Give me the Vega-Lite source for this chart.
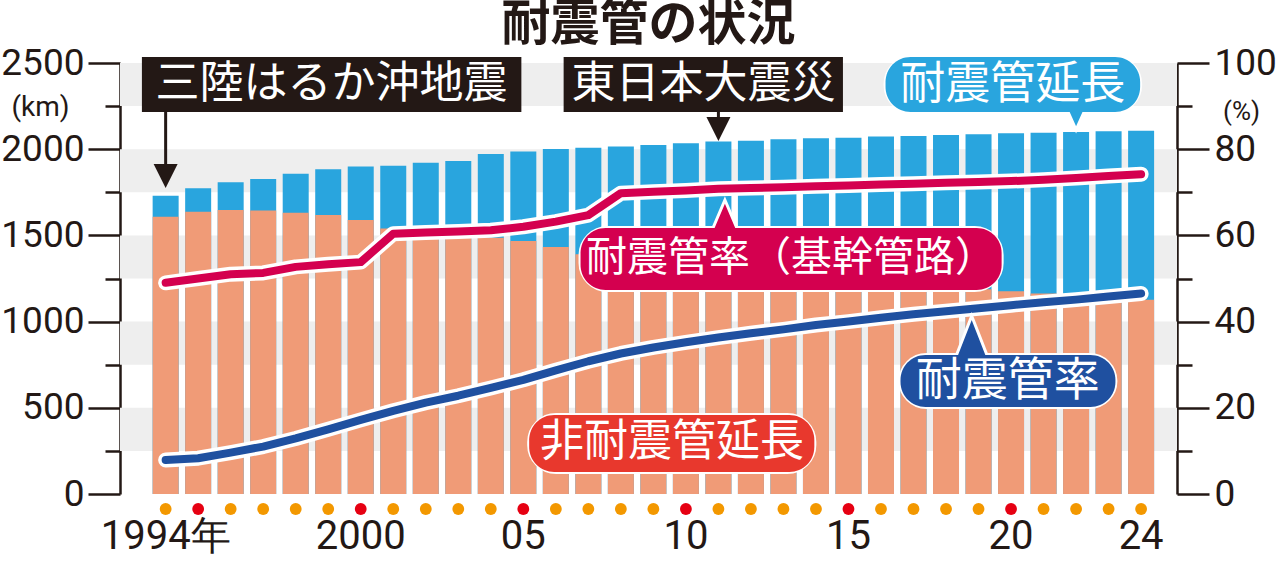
{
  "$schema": "https://vega.github.io/schema/vega-lite/v6.json",
  "width": 1057,
  "height": 431,
  "autosize": "none",
  "padding": {"left": 120, "top": 63, "right": 103, "bottom": 67},
  "background": "white",
  "config": {"view": {"stroke": null}},
  "title": {
    "text": "耐震管の状況",
    "font": "Noto Sans CJK JP",
    "fontSize": 49,
    "fontWeight": "bold",
    "color": "#231815",
    "anchor": "middle",
    "frame": "group",
    "offset": -6
  },
  "datasets": {
    "main": [
      {"year": 1994, "total": 1730, "non": 1608, "rate": 7.9, "trunk": 49.0},
      {"year": 1995, "total": 1773, "non": 1637, "rate": 8.3, "trunk": 50.0},
      {"year": 1996, "total": 1808, "non": 1647, "rate": 9.6, "trunk": 51.0},
      {"year": 1997, "total": 1827, "non": 1645, "rate": 11.0, "trunk": 51.3},
      {"year": 1998, "total": 1858, "non": 1632, "rate": 12.9, "trunk": 52.7},
      {"year": 1999, "total": 1883, "non": 1618, "rate": 15.0, "trunk": 53.3},
      {"year": 2000, "total": 1900, "non": 1589, "rate": 17.2, "trunk": 53.8},
      {"year": 2001, "total": 1904, "non": 1540, "rate": 19.3, "trunk": 60.4},
      {"year": 2002, "total": 1922, "non": 1515, "rate": 21.2, "trunk": 60.7},
      {"year": 2003, "total": 1932, "non": 1491, "rate": 22.8, "trunk": 60.9},
      {"year": 2004, "total": 1972, "non": 1487, "rate": 24.6, "trunk": 61.2},
      {"year": 2005, "total": 1986, "non": 1468, "rate": 26.5, "trunk": 62.0},
      {"year": 2006, "total": 2001, "non": 1432, "rate": 28.7, "trunk": 63.2},
      {"year": 2007, "total": 2009, "non": 1390, "rate": 30.8, "trunk": 64.7},
      {"year": 2008, "total": 2015, "non": 1358, "rate": 32.6, "trunk": 69.8},
      {"year": 2009, "total": 2024, "non": 1336, "rate": 34.0, "trunk": 70.1},
      {"year": 2010, "total": 2034, "non": 1318, "rate": 35.2, "trunk": 70.4},
      {"year": 2011, "total": 2044, "non": 1302, "rate": 36.3, "trunk": 70.8},
      {"year": 2012, "total": 2049, "non": 1285, "rate": 37.3, "trunk": 71.0},
      {"year": 2013, "total": 2057, "non": 1271, "rate": 38.2, "trunk": 71.2},
      {"year": 2014, "total": 2063, "non": 1254, "rate": 39.2, "trunk": 71.4},
      {"year": 2015, "total": 2067, "non": 1240, "rate": 40.0, "trunk": 71.6},
      {"year": 2016, "total": 2073, "non": 1225, "rate": 40.9, "trunk": 71.8},
      {"year": 2017, "total": 2077, "non": 1211, "rate": 41.7, "trunk": 72.0},
      {"year": 2018, "total": 2082, "non": 1199, "rate": 42.4, "trunk": 72.2},
      {"year": 2019, "total": 2086, "non": 1187, "rate": 43.1, "trunk": 72.4},
      {"year": 2020, "total": 2092, "non": 1176, "rate": 43.8, "trunk": 72.6},
      {"year": 2021, "total": 2096, "non": 1163, "rate": 44.5, "trunk": 72.9},
      {"year": 2022, "total": 2100, "non": 1153, "rate": 45.1, "trunk": 73.3},
      {"year": 2023, "total": 2104, "non": 1140, "rate": 45.8, "trunk": 73.8},
      {"year": 2024, "total": 2107, "non": 1127, "rate": 46.5, "trunk": 74.2}
    ],
    "xlabels": [
      {"year": 1994, "label": "1994年"},
      {"year": 2000, "label": "2000"},
      {"year": 2005, "label": "05"},
      {"year": 2010, "label": "10"},
      {"year": 2015, "label": "15"},
      {"year": 2020, "label": "20"},
      {"year": 2024, "label": "24"}
    ],
    "bands": [
      {"lo": 250, "hi": 500},
      {"lo": 750, "hi": 1000},
      {"lo": 1250, "hi": 1500},
      {"lo": 1750, "hi": 2000},
      {"lo": 2250, "hi": 2500}
    ],
    "notes": [
      {"text": "三陸はるか沖地震", "kind": "black", "x1": 1993.27, "x2": 2004.94, "y1": 2216, "y2": 2535, "cx": 1999.1, "cy": 2375},
      {"text": "東日本大震災", "kind": "black", "x1": 2006.24, "x2": 2014.83, "y1": 2216, "y2": 2535, "cx": 2010.54, "cy": 2375},
      {"text": "耐震管延長", "kind": "round", "x1": 2016.14, "x2": 2023.97, "y1": 2216, "y2": 2535, "cx": 2020.05, "cy": 2375},
      {"text": "耐震管率（基幹管路）", "kind": "round", "x1": 2006.76, "x2": 2019.71, "y1": 1183, "y2": 1543, "cx": 2013.23, "cy": 1363},
      {"text": "耐震管率", "kind": "round", "x1": 2016.6, "x2": 2023.21, "y1": 505, "y2": 806, "cx": 2019.9, "cy": 655},
      {"text": "非耐震管延長", "kind": "round", "x1": 2005.18, "x2": 2013.95, "y1": 128, "y2": 458, "cx": 2009.57, "cy": 293}
    ],
    "pointers": [
      {"name": "耐震管延長", "x": 2022, "y": 2187},
      {"name": "耐震管率（基幹管路）", "x": 2011.2, "y": 1601},
      {"name": "耐震管率", "x": 2018.79, "y": 899}
    ],
    "arrows": [
      {"name": "三陸はるか沖地震", "x": 1994, "top": 2216, "bot": 1879, "head": 1845},
      {"name": "東日本大震災", "x": 2011, "top": 2216, "bot": 2150, "head": 2117}
    ]
  },
  "resolve": {"scale": {"y": "independent", "size": "independent", "shape": "independent"}, "axis": {"y": "independent"}},
  "layer": [
    {
      "data": {"name": "bands"},
      "mark": {"type": "rect", "color": "#eeeeee"},
      "encoding": {
        "y": {"field": "lo", "type": "quantitative", "scale": {"domain": [0, 2500], "nice": false, "zero": true}, "axis": null},
        "y2": {"field": "hi"}
      }
    },
    {
      "data": {"name": "main"},
      "mark": {"type": "bar", "width": 26, "orient": "vertical", "color": "#29a5de"},
      "encoding": {
        "x": {
          "field": "year", "type": "quantitative",
          "scale": {"domain": [1992.75, 2024.95], "nice": false, "zero": false},
          "axis": null
        },
        "y": {
          "field": "total", "type": "quantitative",
          "scale": {"domain": [0, 2500], "nice": false, "zero": true},
          "axis": {
            "orient": "left",
            "values": [0, 500, 1000, 1500, 2000, 2500],
            "format": "d",
            "grid": false,
            "domainColor": "#231815", "domainWidth": 2.5,
            "tickColor": "#231815", "tickWidth": 2.5, "tickSize": 32,
            "labelFont": "Roboto", "labelFontSize": 37, "labelColor": "#231815",
            "labelPadding": 4,
            "title": "(km)", "titleAngle": 0, "titleX": -80, "titleY": 44,
            "titleAlign": "center", "titleBaseline": "middle",
            "titleFont": "Roboto", "titleFontSize": 28, "titleFontWeight": "normal", "titleColor": "#231815"
          }
        }
      }
    },
    {
      "data": {"name": "main"},
      "mark": {"type": "bar", "width": 26, "orient": "vertical", "color": "#f09b77"},
      "encoding": {
        "x": {"field": "year", "type": "quantitative", "axis": null},
        "y": {
          "field": "non", "type": "quantitative",
          "scale": {"domain": [0, 2500], "nice": false, "zero": true},
          "axis": {
            "orient": "left",
            "values": [250, 750, 1250, 1750, 2250],
            "grid": false, "domain": false, "labels": false, "title": null,
            "tickColor": "#231815", "tickWidth": 2.5, "tickSize": 15
          }
        }
      }
    },
    {
      "data": {"name": "main"},
      "mark": {"type": "point", "filled": true, "size": 140, "opacity": 1, "shape": "circle"},
      "encoding": {
        "x": {"field": "year", "type": "quantitative", "axis": null},
        "y": {"datum": -87, "type": "quantitative", "scale": {"domain": [0, 2500], "nice": false, "zero": true}, "axis": null},
        "color": {"condition": {"test": "datum.year % 5 === 0", "value": "#e60012"}, "value": "#f39800"}
      }
    },
    {
      "data": {"name": "xlabels"},
      "mark": {"type": "text", "font": "Roboto", "fontSize": 40, "color": "#231815", "align": "center", "baseline": "middle"},
      "encoding": {
        "x": {"field": "year", "type": "quantitative", "axis": null},
        "y": {"datum": -250, "type": "quantitative", "scale": {"domain": [0, 2500], "nice": false, "zero": true}, "axis": null},
        "text": {"field": "label"}
      }
    },
    {
      "data": {"name": "main"},
      "mark": {"type": "line", "color": "white", "strokeWidth": 15, "strokeCap": "round", "strokeJoin": "round"},
      "encoding": {
        "x": {"field": "year", "type": "quantitative", "axis": null},
        "y": {
          "field": "trunk", "type": "quantitative",
          "scale": {"domain": [0, 100], "nice": false},
          "axis": {
            "orient": "right",
            "values": [0, 20, 40, 60, 80, 100],
            "grid": false,
            "domainColor": "#231815", "domainWidth": 2.5,
            "tickColor": "#231815", "tickWidth": 2.5, "tickSize": 32,
            "labelFont": "Roboto", "labelFontSize": 37, "labelColor": "#231815",
            "labelPadding": 5,
            "title": "(%)", "titleAngle": 0, "titleX": 64, "titleY": 48,
            "titleAlign": "center", "titleBaseline": "middle",
            "titleFont": "Roboto", "titleFontSize": 26, "titleFontWeight": "normal", "titleColor": "#231815"
          }
        }
      }
    },
    {
      "data": {"name": "main"},
      "mark": {"type": "line", "color": "#d4004f", "strokeWidth": 8, "strokeCap": "round", "strokeJoin": "round"},
      "encoding": {
        "x": {"field": "year", "type": "quantitative", "axis": null},
        "y": {"field": "trunk", "type": "quantitative", "scale": {"domain": [0, 100], "nice": false}, "axis": null}
      }
    },
    {
      "data": {"name": "main"},
      "mark": {"type": "line", "color": "white", "strokeWidth": 15, "strokeCap": "round", "strokeJoin": "round"},
      "encoding": {
        "x": {"field": "year", "type": "quantitative", "axis": null},
        "y": {
          "field": "rate", "type": "quantitative",
          "scale": {"domain": [0, 100], "nice": false},
          "axis": {
            "orient": "right",
            "values": [10, 30, 50, 70, 90],
            "grid": false, "domain": false, "labels": false, "title": null,
            "tickColor": "#231815", "tickWidth": 2.5, "tickSize": 15
          }
        }
      }
    },
    {
      "data": {"name": "main"},
      "mark": {"type": "line", "color": "#1f50a0", "strokeWidth": 8, "strokeCap": "round", "strokeJoin": "round"},
      "encoding": {
        "x": {"field": "year", "type": "quantitative", "axis": null},
        "y": {"field": "rate", "type": "quantitative", "scale": {"domain": [0, 100], "nice": false}, "axis": null}
      }
    },
    {
      "data": {"name": "notes"},
      "transform": [{"filter": "datum.kind === 'round'"}],
      "mark": {"type": "rect", "cornerRadius": 27, "stroke": "white", "strokeWidth": 4},
      "encoding": {
        "x": {"field": "x1", "type": "quantitative", "axis": null},
        "x2": {"field": "x2"},
        "y": {"field": "y1", "type": "quantitative", "scale": {"domain": [0, 2500], "nice": false, "zero": true}, "axis": null},
        "y2": {"field": "y2"},
        "color": {
          "field": "text", "type": "nominal", "legend": null,
          "scale": {
            "domain": ["三陸はるか沖地震", "東日本大震災", "耐震管延長", "耐震管率（基幹管路）", "耐震管率", "非耐震管延長"],
            "range": ["#231815", "#231815", "#29a5de", "#d4004f", "#1f50a0", "#e8382d"]
          }
        }
      }
    },
    {
      "data": {"name": "pointers"},
      "mark": {"type": "point", "filled": true, "opacity": 1, "stroke": "white", "strokeWidth": 3, "strokeOpacity": 1},
      "encoding": {
        "x": {"field": "x", "type": "quantitative", "axis": null},
        "y": {"field": "y", "type": "quantitative", "scale": {"domain": [0, 2500], "nice": false, "zero": true}, "axis": null},
        "shape": {
          "field": "name", "type": "nominal", "legend": null,
          "scale": {
            "domain": ["耐震管延長", "耐震管率（基幹管路）", "耐震管率"],
            "range": ["M-0.9,-1L0.9,-1L0,1Z", "M0,-1L0.85,1L-0.85,1Z", "M0,-1L0.78,1L-0.78,1Z"]
          }
        },
        "size": {
          "field": "name", "type": "ordinal", "legend": null,
          "scale": {"type": "ordinal", "domain": ["耐震管延長", "耐震管率（基幹管路）", "耐震管率"], "range": [676, 1296, 2116]}
        },
        "color": {"field": "name", "type": "nominal", "legend": null}
      }
    },
    {
      "data": {"name": "notes"},
      "transform": [{"filter": "datum.kind === 'round'"}],
      "mark": {"type": "rect", "cornerRadius": 25},
      "encoding": {
        "x": {"field": "x1", "type": "quantitative", "axis": null},
        "x2": {"field": "x2"},
        "y": {"field": "y1", "type": "quantitative", "scale": {"domain": [0, 2500], "nice": false, "zero": true}, "axis": null},
        "y2": {"field": "y2"},
        "color": {"field": "text", "type": "nominal", "legend": null}
      }
    },
    {
      "data": {"name": "notes"},
      "transform": [{"filter": "datum.kind === 'black'"}],
      "mark": {"type": "rect"},
      "encoding": {
        "x": {"field": "x1", "type": "quantitative", "axis": null},
        "x2": {"field": "x2"},
        "y": {"field": "y1", "type": "quantitative", "scale": {"domain": [0, 2500], "nice": false, "zero": true}, "axis": null},
        "y2": {"field": "y2"},
        "color": {"field": "text", "type": "nominal", "legend": null}
      }
    },
    {
      "data": {"name": "arrows"},
      "mark": {"type": "rule", "color": "#231815", "strokeWidth": 3},
      "encoding": {
        "x": {"field": "x", "type": "quantitative", "axis": null},
        "y": {"field": "top", "type": "quantitative", "scale": {"domain": [0, 2500], "nice": false, "zero": true}, "axis": null},
        "y2": {"field": "bot"}
      }
    },
    {
      "data": {"name": "arrows"},
      "mark": {"type": "point", "filled": true, "opacity": 1, "color": "#231815", "shape": "M-1,-1L1,-1L0,1Z", "size": 576},
      "encoding": {
        "x": {"field": "x", "type": "quantitative", "axis": null},
        "y": {"field": "head", "type": "quantitative", "scale": {"domain": [0, 2500], "nice": false, "zero": true}, "axis": null}
      }
    },
    {
      "data": {"name": "notes"},
      "mark": {"type": "text", "color": "white", "font": "Noto Sans CJK JP", "align": "center", "baseline": "middle"},
      "encoding": {
        "x": {"field": "cx", "type": "quantitative", "axis": null},
        "y": {"field": "cy", "type": "quantitative", "scale": {"domain": [0, 2500], "nice": false, "zero": true}, "axis": null},
        "text": {"field": "text"},
        "size": {
          "field": "text", "type": "ordinal", "legend": null,
          "scale": {
            "type": "ordinal",
            "domain": ["三陸はるか沖地震", "東日本大震災", "耐震管延長", "耐震管率（基幹管路）", "耐震管率", "非耐震管延長"],
            "range": [44, 44, 45, 41, 46, 44]
          }
        }
      }
    }
  ]
}
